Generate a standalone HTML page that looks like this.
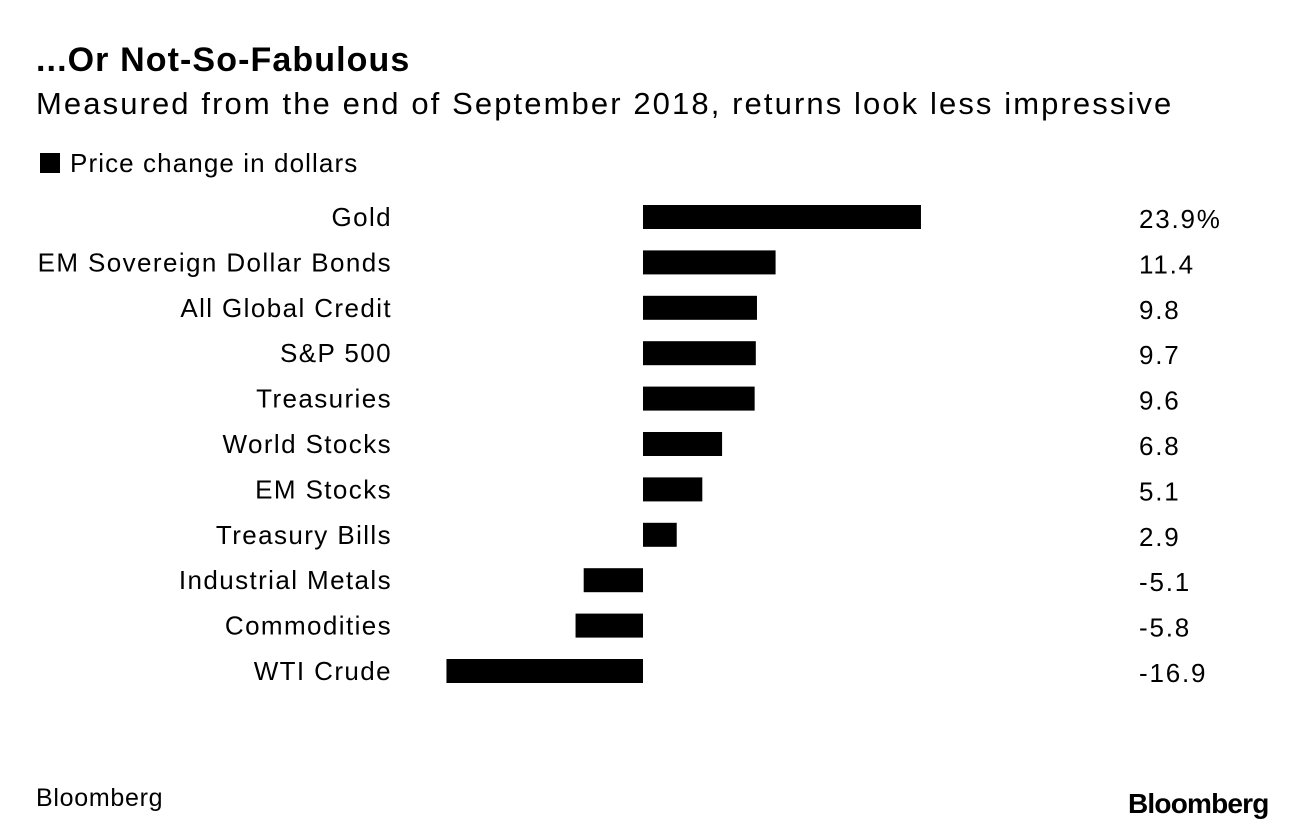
<!DOCTYPE html>
<html><head><meta charset="utf-8"><style>
body{margin:0;width:1296px;height:830px;background:#fff;font-family:"Liberation Sans",Arial,sans-serif;color:#000;position:relative;overflow:hidden}
.t{position:absolute;white-space:nowrap}
</style></head><body>
<div class="t" style="left:36px;top:41px;font-size:34px;font-weight:bold;letter-spacing:1.1px">...Or Not-So-Fabulous</div>
<div class="t" style="left:36px;top:86px;font-size:31px;letter-spacing:2.1px">Measured from the end of September 2018, returns look less impressive</div>
<div class="t" style="left:40px;top:148px;font-size:26px;letter-spacing:1.1px"><span style="display:inline-block;width:20px;height:20px;background:#000;vertical-align:-1px;margin-right:10px"></span>Price change in dollars</div>
<svg id="chart" width="1296" height="830" style="position:absolute;left:0;top:0"></svg>
<div class="t" style="left:36px;top:784px;font-size:25px;letter-spacing:0.7px">Bloomberg</div>
<div class="t" style="left:1128px;top:788px;font-size:28px;font-weight:bold;letter-spacing:-0.8px">Bloomberg</div>
<script>
const categories=["Gold","EM Sovereign Dollar Bonds","All Global Credit","S&P 500","Treasuries","World Stocks","EM Stocks","Treasury Bills","Industrial Metals","Commodities","WTI Crude"];
const values=[23.9,11.4,9.8,9.7,9.6,6.8,5.1,2.9,-5.1,-5.8,-16.9];
const valueLabels=["23.9%","11.4","9.8","9.7","9.6","6.8","5.1","2.9","-5.1","-5.8","-16.9"];
const svg=document.getElementById('chart');
const NS='http://www.w3.org/2000/svg';
const x=v=>643+v*11.63;
const y=i=>217+i*45.4;
categories.forEach((c,i)=>{
  const r=document.createElementNS(NS,'rect');
  
  
  const a=x(Math.min(0,values[i])),b=x(Math.max(0,values[i]));
  r.setAttribute('x',a);r.setAttribute('width',b-a);
  r.setAttribute('y',y(i)-12);r.setAttribute('height',24);r.setAttribute('fill','#000');
  svg.appendChild(r);
  const l=document.createElementNS(NS,'text');
  
  
  l.setAttribute('x',392);l.setAttribute('y',y(i)+9);l.setAttribute('text-anchor','end');
  l.setAttribute('font-size','26');l.setAttribute('letter-spacing','1.4');l.setAttribute('font-family','Liberation Sans, sans-serif');
  l.textContent=c;svg.appendChild(l);
  const v=document.createElementNS(NS,'text');
  
  
  v.setAttribute('x',1139);v.setAttribute('y',y(i)+11);
  v.setAttribute('font-size','26');v.setAttribute('letter-spacing','1.8');v.setAttribute('font-family','Liberation Sans, sans-serif');
  v.textContent=valueLabels[i];svg.appendChild(v);
});
</script>
</body></html>
